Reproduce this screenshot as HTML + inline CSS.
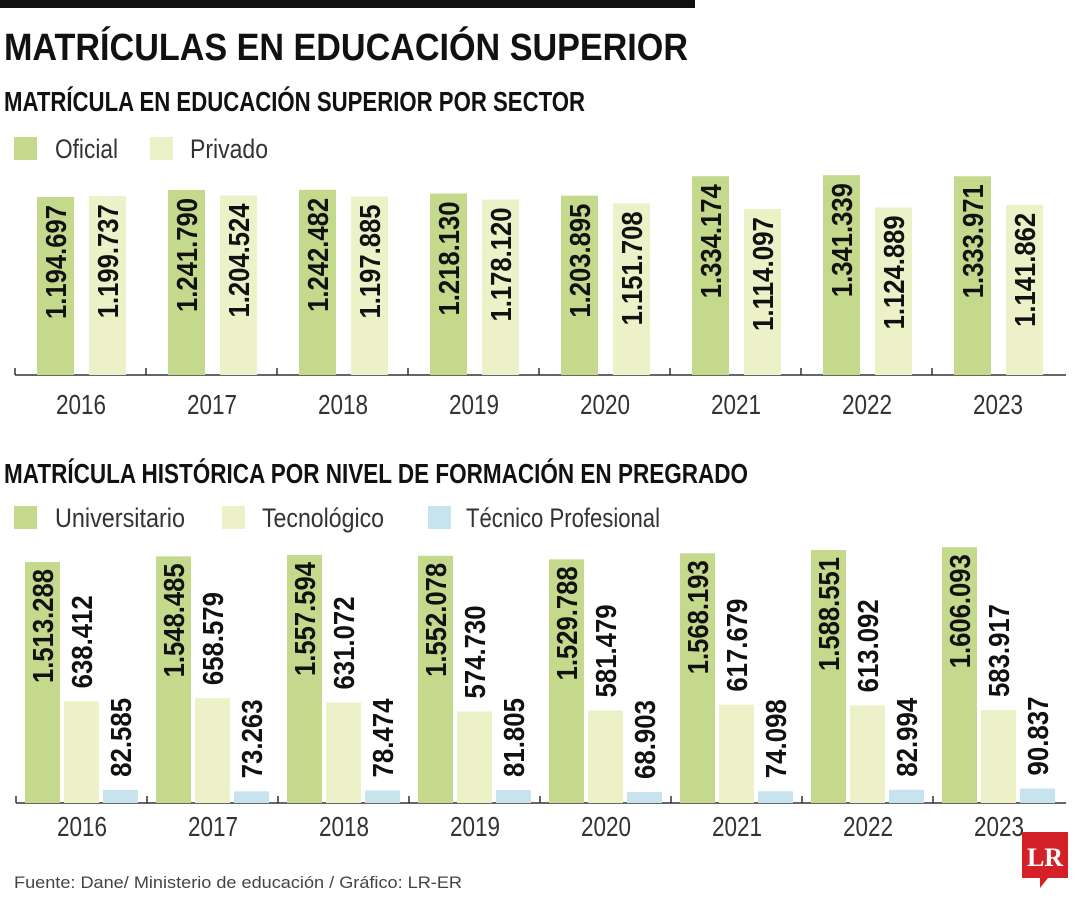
<!DOCTYPE html>
<html><head><meta charset="utf-8"><style>
body{margin:0;background:#fff;}
svg{display:block;font-family:"Liberation Sans Narrow","Liberation Sans",sans-serif;}
</style></head><body>
<svg width="1080" height="900" viewBox="0 0 1080 900">
<rect x="0" y="0" width="695" height="8" fill="#111"/>
<text x="4" y="60" font-size="38" font-weight="bold" fill="#111" textLength="684" lengthAdjust="spacingAndGlyphs">MATRÍCULAS EN EDUCACIÓN SUPERIOR</text>
<text x="4" y="111" font-size="28" font-weight="bold" fill="#111" textLength="581" lengthAdjust="spacingAndGlyphs">MATRÍCULA EN EDUCACIÓN SUPERIOR POR SECTOR</text>
<rect x="14" y="137" width="23" height="23" fill="#c4d98b"/>
<text x="55" y="158" font-size="27" fill="#333" textLength="63" lengthAdjust="spacingAndGlyphs">Oficial</text>
<rect x="150" y="137" width="23" height="23" fill="#ecf1c8"/>
<text x="190" y="158" font-size="27" fill="#333" textLength="78" lengthAdjust="spacingAndGlyphs">Privado</text>
<text x="4" y="483" font-size="28" font-weight="bold" fill="#111" textLength="744" lengthAdjust="spacingAndGlyphs">MATRÍCULA HISTÓRICA POR NIVEL DE FORMACIÓN EN PREGRADO</text>
<rect x="14" y="506" width="23" height="23" fill="#c4d98b"/>
<text x="55" y="527" font-size="27" fill="#333" textLength="130" lengthAdjust="spacingAndGlyphs">Universitario</text>
<rect x="222" y="506" width="23" height="23" fill="#ecf1c8"/>
<text x="262" y="527" font-size="27" fill="#333" textLength="122" lengthAdjust="spacingAndGlyphs">Tecnológico</text>
<rect x="428" y="506" width="23" height="23" fill="#c7e4ee"/>
<text x="466" y="527" font-size="27" fill="#333" textLength="194" lengthAdjust="spacingAndGlyphs">Técnico Profesional</text>
<g id="c1"></g><g id="c2"></g>
<text x="14" y="888" font-size="17" fill="#444" textLength="448" lengthAdjust="spacingAndGlyphs" font-family="Liberation Sans, sans-serif">Fuente: Dane/ Ministerio de educación / Gráfico: LR-ER</text>
<g>
<polygon points="1022,832 1068,832 1068,878 1048,878 1040,888 1040,878 1022,878" fill="#d42027"/>
<text x="1045" y="866" font-size="26" font-weight="bold" fill="#fff" text-anchor="middle" font-family="Liberation Serif, serif">LR</text>
</g>
</svg>
<script>
const years=["2016","2017","2018","2019","2020","2021","2022","2023"];
const oficial=[1194697,1241790,1242482,1218130,1203895,1334174,1341339,1333971];
const privado=[1199737,1204524,1197885,1178120,1151708,1114097,1124889,1141862];
const universitario=[1513288,1548485,1557594,1552078,1529788,1568193,1588551,1606093];
const tecnologico=[638412,658579,631072,574730,581479,617679,613092,583917];
const tecnico=[82585,73263,78474,81805,68903,74098,82994,90837];
const NS="http://www.w3.org/2000/svg";
function fmt(v){return String(v).replace(/\B(?=(\d{3})+(?!\d))/g,".");}
function mk(tag,attrs,parent){const e=document.createElementNS(NS,tag);for(const k in attrs)e.setAttribute(k,attrs[k]);parent.appendChild(e);return e;}
function tlen(s){return s.length>=9?114:(s.length>=7?93:79);}
const step=131;
// chart 1
const c1=document.getElementById('c1');
const base1=375, k1=178/1194697;
const y1=v=>base1-v*k1;
mk('line',{x1:15,y1:base1,x2:1066,y2:base1,stroke:'#333','stroke-width':1.5},c1);
years.forEach((yr,i)=>{
  const gx=15+i*step;
  const t=mk('line',{x1:gx,y1:base1-7,x2:gx,y2:base1,stroke:'#333','stroke-width':1.5},c1);
  
  
  const lab=mk('text',{x:gx+66,y:414,'font-size':28,fill:'#333','text-anchor':'middle',textLength:50,lengthAdjust:'spacingAndGlyphs'},c1);
  lab.textContent=yr;
  
  
  [[oficial,'#c4d98b',22,'oficial'],[privado,'#ecf1c8',74,'privado']].forEach(([arr,col,off,nm])=>{
    const v=arr[i], top=y1(v), x=gx+off;
    const r=mk('rect',{x:x,y:top,width:37,height:base1-top,fill:col},c1);
    
    
    const s=fmt(v);
    const tx=mk('text',{x:0,y:0,'font-size':29,'font-weight':'bold',fill:'#111','text-anchor':'end',textLength:tlen(s),lengthAdjust:'spacingAndGlyphs',transform:`translate(${x+29},${top+8}) rotate(-90)`},c1);
    tx.textContent=s;
    
    
  });
});
// chart 2
const c2=document.getElementById('c2');
const base2=803, k2=241/1513288;
const y2=v=>base2-v*k2;
mk('line',{x1:16,y1:base2,x2:1066,y2:base2,stroke:'#333','stroke-width':1.5},c2);
years.forEach((yr,i)=>{
  const gx=16+i*step;
  const t=mk('line',{x1:gx,y1:base2-7,x2:gx,y2:base2,stroke:'#333','stroke-width':1.5},c2);
  
  
  const lab=mk('text',{x:gx+66,y:836,'font-size':28,fill:'#333','text-anchor':'middle',textLength:50,lengthAdjust:'spacingAndGlyphs'},c2);
  lab.textContent=yr;
  
  
  [[universitario,'#c4d98b',9,'universitario'],[tecnologico,'#ecf1c8',48,'tecnologico'],[tecnico,'#c7e4ee',87,'tecnico']].forEach(([arr,col,off,nm],j)=>{
    const v=arr[i], top=y2(v), x=gx+off;
    const r=mk('rect',{x:x,y:top,width:35,height:base2-top,fill:col},c2);
    
    
    let tr;
    if(j===0) tr={anchor:'end',y:top+7};
    else tr={anchor:'start',y:top-13};
    const s=fmt(v);
    const tx=mk('text',{x:0,y:0,'font-size':29,'font-weight':'bold',fill:'#111','text-anchor':tr.anchor,textLength:tlen(s),lengthAdjust:'spacingAndGlyphs',transform:`translate(${x+28},${tr.y}) rotate(-90)`},c2);
    tx.textContent=s;
    
    
  });
});
</script>
</body></html>
